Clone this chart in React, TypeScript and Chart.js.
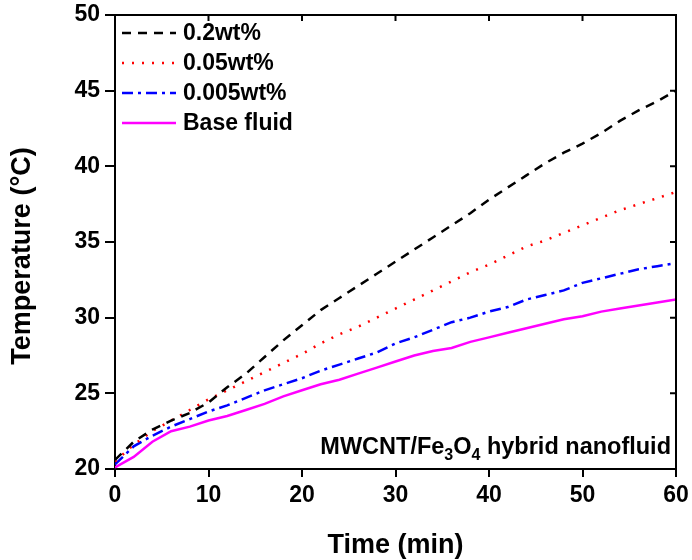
import React, { useEffect, useRef } from "react";
import { Chart, registerables } from "chart.js";

Chart.register(...registerables);

// ---- data ----
const timeMin = [0, 2, 4, 6, 8, 10, 12, 14, 16, 18, 20, 22, 24, 26, 28, 30, 32, 34, 36, 38, 40, 42, 44, 46, 48, 50, 52, 54, 56, 58, 60];
const wt02 = [20.6, 21.8, 22.6, 23.2, 23.7, 24.4, 25.4, 26.3, 27.4, 28.5, 29.5, 30.5, 31.3, 32.1, 32.9, 33.7, 34.5, 35.3, 36.1, 36.9, 37.8, 38.6, 39.4, 40.2, 40.9, 41.5, 42.2, 43.0, 43.7, 44.3, 45.0];
const wt005 = [20.5, 21.6, 22.5, 23.2, 23.9, 24.6, 25.2, 25.8, 26.4, 27.0, 27.6, 28.3, 28.9, 29.4, 30.0, 30.6, 31.2, 31.8, 32.4, 33.0, 33.5, 34.1, 34.7, 35.1, 35.6, 36.1, 36.6, 37.1, 37.5, 37.9, 38.3];
const wt0005 = [20.3, 21.5, 22.2, 22.8, 23.3, 23.8, 24.2, 24.7, 25.2, 25.6, 26.0, 26.5, 26.9, 27.3, 27.7, 28.3, 28.7, 29.2, 29.7, 30.0, 30.4, 30.7, 31.2, 31.5, 31.8, 32.3, 32.6, 32.9, 33.2, 33.4, 33.6];
const baseFluid = [20.1, 20.8, 21.8, 22.5, 22.8, 23.2, 23.5, 23.9, 24.3, 24.8, 25.2, 25.6, 25.9, 26.3, 26.7, 27.1, 27.5, 27.8, 28.0, 28.4, 28.7, 29.0, 29.3, 29.6, 29.9, 30.1, 30.4, 30.6, 30.8, 31.0, 31.2];

const seriesLabels = ["0.2wt%", "0.05wt%", "0.005wt%", "Base fluid"];
const xMin = 0, xMax = 60, xStep = 10;
const yMin = 20, yMax = 50, yStep = 5;
const xTitle = "Time (min)";
const yTitle = "Temperature (\u00B0C)";

const FONT = "'Liberation Sans', Arial, sans-serif";

const styles = [
  { color: "#000000", dash: [9, 7] },
  { color: "#ff0000", dash: [2, 8] },
  { color: "#0000ff", dash: [11, 5, 3, 5] },
  { color: "#ff00ff", dash: [] as number[] },
];

const framePlugin = {
  id: "frame",
  afterDraw(chart: any) {
    const { ctx, chartArea, scales } = chart;
    const { left, right, top, bottom } = chartArea;
    const x = scales.x, y = scales.y;
    ctx.save();
    ctx.strokeStyle = "#000";
    ctx.lineWidth = 2;
    ctx.setLineDash([]);
    ctx.beginPath();
    ctx.moveTo(left - 1, top);
    ctx.lineTo(right, top);
    ctx.lineTo(right, bottom + 1);
    ctx.stroke();
    ctx.beginPath();
    x.ticks.forEach((t: any) => {
      const px = x.getPixelForValue(t.value);
      ctx.moveTo(px, top);
      ctx.lineTo(px, top + 6);
    });
    y.ticks.forEach((t: any) => {
      const py = y.getPixelForValue(t.value);
      ctx.moveTo(right, py);
      ctx.lineTo(right - 6, py);
    });
    ctx.stroke();

    // y axis title
    ctx.save();
    ctx.translate(23, (top + bottom) / 2 + 14);
    ctx.rotate(-Math.PI / 2);
    ctx.font = `bold 27px ${FONT}`;
    ctx.fillStyle = "#000";
    ctx.textAlign = "center";
    ctx.textBaseline = "middle";
    ctx.fillText(yTitle, 0, 0);
    ctx.restore();

    // legend
    ctx.font = `bold 23px ${FONT}`;
    ctx.textBaseline = "middle";
    ctx.textAlign = "left";
    chart.data.datasets.forEach((ds: any, i: number) => {
      const cy = top + 18 + i * 30;
      ctx.strokeStyle = ds.borderColor;
      ctx.lineWidth = 2.5;
      ctx.setLineDash(ds.borderDash || []);
      ctx.beginPath();
      ctx.moveTo(left + 7, cy);
      ctx.lineTo(left + 61, cy);
      ctx.stroke();
      ctx.setLineDash([]);
      ctx.fillStyle = "#000";
      ctx.fillText(ds.label, left + 68, cy + 1);
    });

    // annotation with subscripts
    const big = `bold 23.5px ${FONT}`;
    const small = `bold 16px ${FONT}`;
    const parts: [string, boolean][] = [["MWCNT/Fe", false], ["3", true], ["O", false], ["4", true], [" hybrid nanofluid", false]];
    let total = 0;
    parts.forEach(([s, sub]) => {
      ctx.font = sub ? small : big;
      total += ctx.measureText(s).width;
    });
    let cx = right - 5 - total;
    const base = bottom - 15;
    ctx.textBaseline = "alphabetic";
    ctx.fillStyle = "#000";
    parts.forEach(([s, sub]) => {
      ctx.font = sub ? small : big;
      ctx.fillText(s, cx, sub ? base + 6 : base);
      cx += ctx.measureText(s).width;
    });
    ctx.restore();
  },
};

export default function App() {
  const ref = useRef<HTMLCanvasElement | null>(null);

  useEffect(() => {
    document.body.style.margin = "0";
    const seriesValues = [wt02, wt005, wt0005, baseFluid];
    const datasets = seriesValues.map((vals, i) => ({
      label: seriesLabels[i],
      data: timeMin.map((t, k) => ({ x: t, y: vals[k] })),
      borderColor: styles[i].color,
      backgroundColor: styles[i].color,
      borderDash: styles[i].dash,
      borderWidth: 2.5,
      pointRadius: 0,
      fill: false,
      tension: 0,
    }));
    const chart = new Chart(ref.current as HTMLCanvasElement, {
      type: "line",
      data: { datasets },
      plugins: [framePlugin],
      options: {
        animation: false,
        responsive: false,
        maintainAspectRatio: false,
        layout: { padding: { top: 15, right: 16, left: 0, bottom: 0 } },
        plugins: { legend: { display: false }, tooltip: { enabled: false } },
        scales: {
          x: {
            type: "linear",
            min: xMin,
            max: xMax,
            afterFit: (s: any) => { s.height = 91; s.paddingLeft = 0; s.paddingRight = 0; },
            ticks: { stepSize: xStep, color: "#000", font: { family: FONT, size: 23, weight: "bold" }, padding: 5, maxRotation: 0 },
            grid: { drawOnChartArea: false, drawTicks: true, tickLength: 8, color: "#000", lineWidth: 2 },
            border: { display: true, color: "#000", width: 2 },
            title: { display: true, text: xTitle, color: "#000", font: { family: FONT, size: 27, weight: "bold", lineHeight: 1.1 }, padding: { top: 0, bottom: 0 } },
          },
          y: {
            type: "linear",
            min: yMin,
            max: yMax,
            afterFit: (s: any) => { s.width = 115; s.paddingTop = 0; s.paddingBottom = 0; },
            ticks: { stepSize: yStep, color: "#000", font: { family: FONT, size: 23, weight: "bold" }, padding: 5 },
            grid: { drawOnChartArea: false, drawTicks: true, tickLength: 10, color: "#000", lineWidth: 2 },
            border: { display: true, color: "#000", width: 2 },
            title: { display: false },
          },
        },
      } as any,
    });
    return () => chart.destroy();
  }, []);

  return (
    <div style={{ width: 692, height: 560, background: "#fff" }}>
      <canvas ref={ref} width={692} height={560} style={{ display: "block", width: 692, height: 560 }} />
    </div>
  );
}
